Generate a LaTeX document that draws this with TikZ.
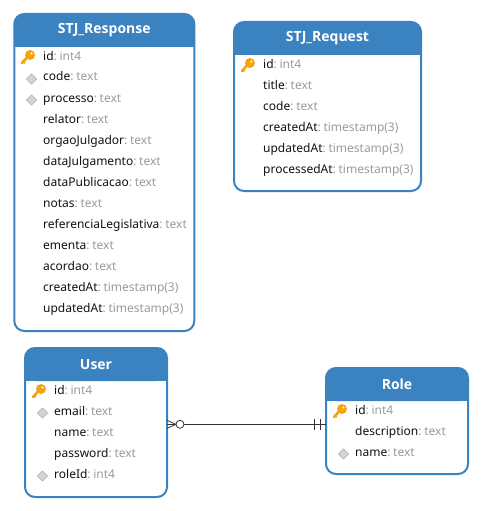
\documentclass[tikz,border=0pt]{standalone}
\usepackage{fontspec}
\setmainfont{Open Sans}
\newfontfamily\rowfont{Noto Sans}
\definecolor{tblue}{HTML}{3A82C0}
\definecolor{tgray}{HTML}{9A9A9A}
\definecolor{tink}{HTML}{111111}
\definecolor{tkey}{HTML}{F5A30F}
\definecolor{dfill}{HTML}{D4D4D4}
\definecolor{ddraw}{HTML}{BDBDBD}
\definecolor{tline}{HTML}{333333}
\newcommand{\ertable}[6]{% name,x1,y1,x2,y2,title
  \fill[tblue,rounded corners=10pt] (#2,#3) -- (#4,#3) -- (#4,#3+33) -- (#2,#3+33) -- cycle;
  \fill[tblue] (#2,#3+15) rectangle (#4,#3+33);
  \node[tablebox,minimum width=#4pt-#2pt,minimum height=#5pt-#3pt] (#1) at ({(#2+#4)/2},{(#3+#5)/2}) {};
  \node[titletext] (#1title) at ({(#2+#4)/2},#3+16.5) {#6};
}
\newcommand{\ercol}[5]{% id,x,baseline,name,type
  \node[rowtext] (#1) at (#2,#3) {#4\textcolor{tgray}{:\hspace{2.7pt}#5}};
}
\newcommand{\erkey}[2]{% x of text, baseline
  \begin{scope}[shift={(#1-44,#2-60)}]
    \draw[tkey,line width=2.6pt,line cap=round] (28,57.5) -- (23,63);
    \draw[tkey,line width=1.6pt,line cap=round] (24,61.5) -- (25.5,63);
    \fill[tkey] (31,55) circle (5pt);
    \fill[white] (32.5,53.5) circle (1.2pt);
  \end{scope}
}
\newcommand{\erdiam}[2]{% x of text, baseline
  \draw[diamondmark] (#1-11.5,#2-7) -- (#1-6.5,#2-2) -- (#1-11.5,#2+3) -- (#1-16.5,#2-2) -- cycle;
}
\tikzset{
  x=1pt,y=-1pt,
  tablebox/.style={draw=tblue,line width=2pt,rounded corners=10pt,inner sep=0pt,outer sep=0pt},
  titletext/.style={text=white,font=\fontsize{14}{16}\selectfont\bfseries,inner sep=0pt},
  rowtext/.style={anchor=base west,inner sep=0pt,text=tink,font=\rowfont\fontsize{12}{14}\selectfont},
  diamondmark/.style={fill=dfill,draw=ddraw,line width=0.8pt,line join=round},
  relline/.style={draw=tline,line width=1pt},
  relthin/.style={draw=tline,line width=0.8pt},
}
\begin{document}
\begin{tikzpicture}
\useasboundingbox (0,0) rectangle (482,511);
\ertable{resp}{14.3}{14}{194.3}{331}{STJ\_Response}
\ertable{req}{234}{22}{421}{191}{STJ\_Request}
\ertable{user}{25}{348}{167}{497}{User}
\ertable{role}{326}{368}{468}{474}{Role}
% STJ_Response
\erkey{43}{60}
\ercol{r1}{43}{60}{id}{int4}
\erdiam{43}{81}
\ercol{r2}{43}{81}{code}{text}
\erdiam{43}{102}
\ercol{r3}{43}{102}{processo}{text}
\ercol{r4}{43}{123}{relator}{text}
\ercol{r5}{43}{144}{orgaoJulgador}{text}
\ercol{r6}{43}{165}{dataJulgamento}{text}
\ercol{r7}{43}{186}{dataPublicacao}{text}
\ercol{r8}{43}{207}{notas}{text}
\ercol{r9}{43}{228}{referenciaLegislativa}{text}
\ercol{r10}{43}{249}{ementa}{text}
\ercol{r11}{43}{270}{acordao}{text}
\ercol{r12}{43}{291}{createdAt}{timestamp(3)}
\ercol{r13}{43}{312}{updatedAt}{timestamp(3)}
% STJ_Request
\erkey{263}{68}
\ercol{q1}{263}{68}{id}{int4}
\ercol{q2}{263}{89}{title}{text}
\ercol{q3}{263}{110}{code}{text}
\ercol{q4}{263}{131}{createdAt}{timestamp(3)}
\ercol{q5}{263}{152}{updatedAt}{timestamp(3)}
\ercol{q6}{263}{173}{processedAt}{timestamp(3)}
% User
\erkey{54}{394}
\ercol{u1}{54}{394}{id}{int4}
\erdiam{54}{415}
\ercol{u2}{54}{415}{email}{text}
\ercol{u3}{54}{436}{name}{text}
\ercol{u4}{54}{457}{password}{text}
\erdiam{54}{478}
\ercol{u5}{54}{478}{roleId}{int4}
% Role
\erkey{355}{414}
\ercol{o1}{355}{414}{id}{int4}
\ercol{o2}{355}{435}{description}{text}
\erdiam{355}{456}
\ercol{o3}{355}{456}{name}{text}
% relation
\coordinate (userport) at (user.east |- 0,424.3);
\coordinate (roleport) at (role.west |- 0,424.3);
\draw[relline] (userport) -- (roleport);
\draw[relthin] (userport) ++(0,-4) -- ++(9,4) -- ++(-9,4);
\draw[relthin,fill=white] (userport) ++(13,0) circle (4pt);
\draw[relthin] (roleport) ++(-11.5,-5.5) -- ++(0,11);
\draw[relthin] (roleport) ++(-5.5,-5.5) -- ++(0,11);
\end{tikzpicture}
\end{document}
